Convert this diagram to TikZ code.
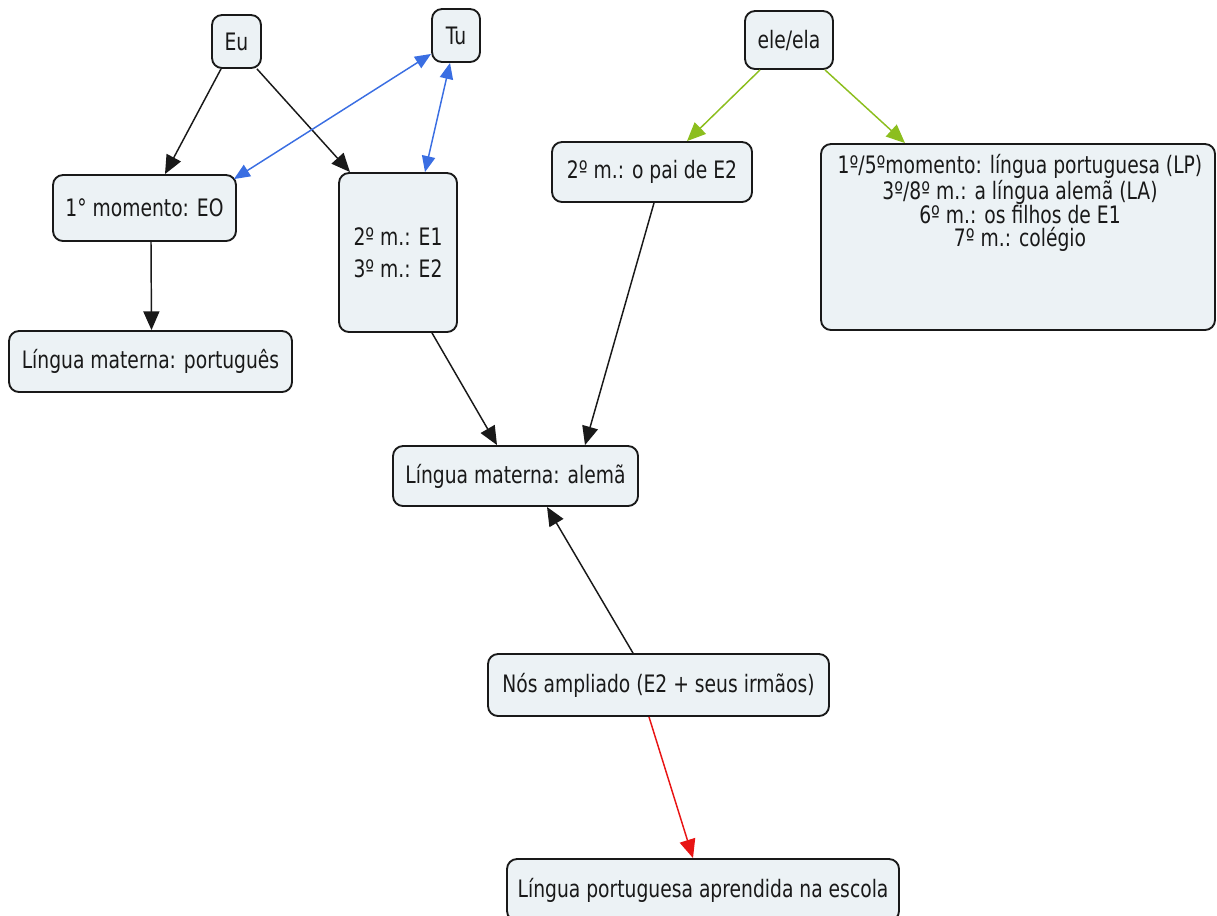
\documentclass[tikz,border=0pt]{standalone}
\usepackage{fontspec}
\setmainfont{DejaVu Sans}[FakeStretch=0.78]
\usetikzlibrary{arrows.meta,calc}
\definecolor{boxfill}{RGB}{236,242,245}
\definecolor{linkblue}{RGB}{58,110,226}
\definecolor{linkgreen}{RGB}{140,190,30}
\definecolor{linkred}{RGB}{232,20,20}
\definecolor{ink}{RGB}{25,25,25}
\begin{document}
\begin{tikzpicture}[x=0.75pt,y=-0.75pt,
  txtfont/.style={font=\fontsize{18pt}{17.25pt}\selectfont, text=ink},
  concept/.style={draw=ink, line width=1.4pt, fill=boxfill, rounded corners=7.5pt,
    inner sep=0pt, align=center, txtfont},
  sz/.style n args={2}{minimum width=#1*0.75pt, minimum height=#2*0.75pt},
  link/.style={line width=1.1pt, draw=ink, -{Triangle[length=14pt,width=12pt]}},
  both/.style={line width=1.1pt, {Triangle[length=12pt,width=10pt]}-{Triangle[length=12pt,width=10pt]}}
]
\useasboundingbox (0,0) rectangle (1217,915);

\node[concept, sz={49}{53}] (eu) at (236.5,41.5) {Eu};
\node[concept, sz={48}{53}] (tu) at (456,35.5) {Tu};
\node[concept, sz={183}{66}] (mom1) at (144.5,208) {1° momento: EO};
\node[concept, sz={118}{159}] (e12) at (398,252.5) {2º m.: E1\\[7pt]3º m.: E2};
\node[concept, sz={283}{61}] (lmp) at (150.5,361.5) {Língua materna: português};
\node[concept, sz={88}{58}] (ele) at (789,40) {ele/ela};
\node[concept, sz={200}{60}] (pai) at (652,172) {2º m.: o pai de E2};
\node[concept, sz={394}{186}] (big) at (1018,237) {};
\node[txtfont, align=center, inner sep=0pt] (bigtext) at (1020,203)
  {1º/5ºmomento: língua portuguesa (LP)\\3º/8º m.: a língua alemã (LA)\\6º m.: os filhos de E1\\7º m.: colégio};
\node[concept, sz={245}{60}] (alema) at (515.5,476) {Língua materna: alemã};
\node[concept, sz={341}{62}] (nos) at (658.5,685) {Nós ampliado (E2 + seus irmãos)};
\node[concept, sz={392}{62}] (lpa) at (703,890) {Língua portuguesa aprendida na escola};

% black links
\draw[link] ($(eu.south)+(-15.5,0)$) -- ($(mom1.north)+(20.5,0)$);
\draw[link] ($(eu.south)+(20.5,0)$) -- ($(e12.north)+(-48,0)$);
\draw[link] ($(mom1.south)+(6.5,0)$) -- ($(lmp.north)+(1,0)$);
\draw[link] ($(e12.south)+(34,0)$) -- ($(alema.north)+(-18.5,0)$);
\draw[link] ($(pai.south)+(2,0)$) -- ($(alema.north)+(69.5,0)$);
\draw[link] ($(nos.north)+(-25.5,0)$) -- ($(alema.south)+(31.5,0)$);

% blue two-way links
\draw[both, linkblue] ($(mom1.north east)+(-3,5)$) -- ($(tu.south west)+(0,-9)$);
\draw[both, linkblue] ($(tu.south)+(-6,0)$) -- ($(e12.north)+(27,0)$);

% green links
\draw[link, draw=linkgreen, fill=linkgreen] ($(ele.south)+(-29,0)$) -- ($(pai.north)+(35,0)$);
\draw[link, draw=linkgreen, fill=linkgreen] ($(ele.south)+(36,0)$) -- ($(big.north)+(-113,0)$);

% red link
\draw[link, draw=linkred, fill=linkred] ($(nos.south)+(-9.5,0)$) -- ($(lpa.north)+(-10,0)$);
\end{tikzpicture}
\end{document}
